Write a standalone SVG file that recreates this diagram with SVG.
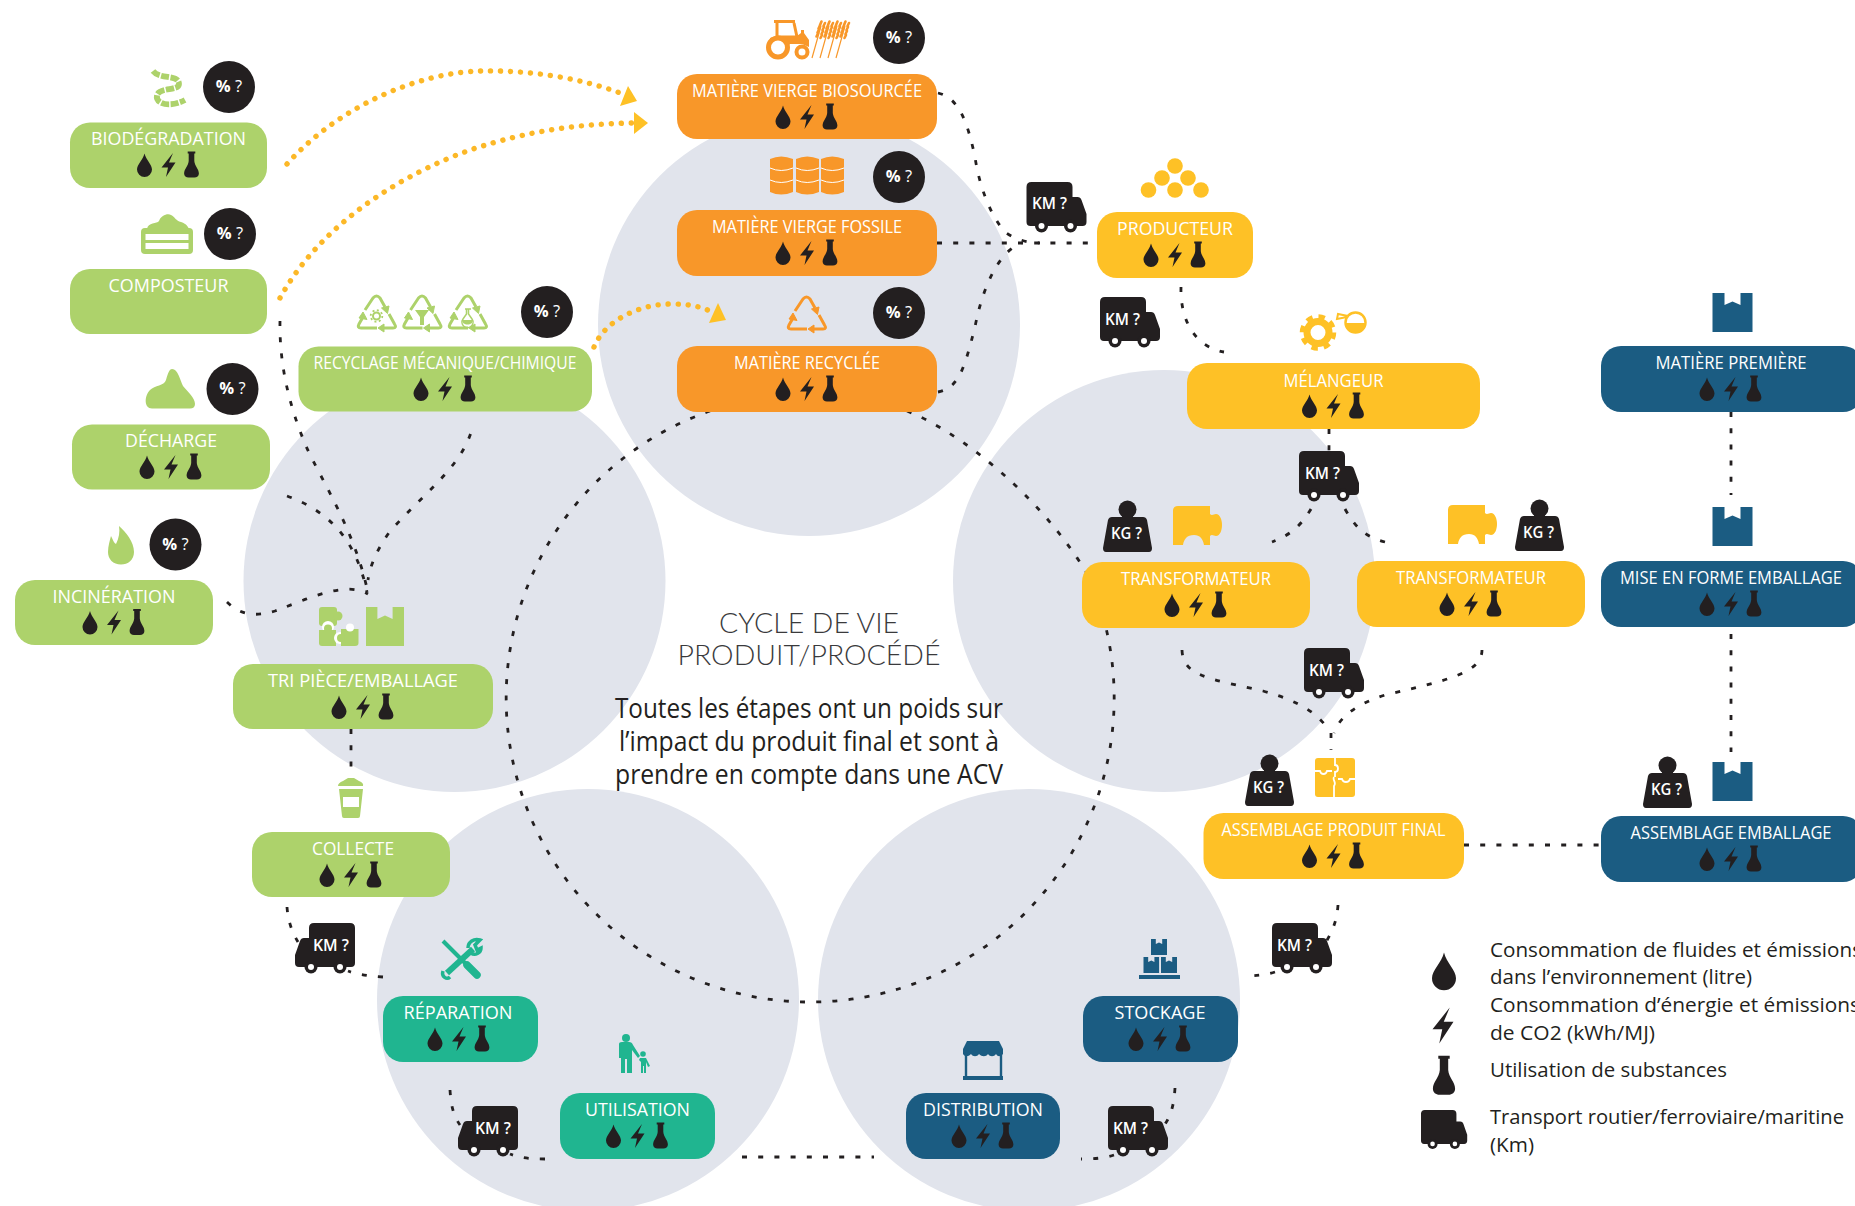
<svg xmlns="http://www.w3.org/2000/svg" width="1855" height="1206" viewBox="0 0 1855 1206">
<style>
text{font-family:"Open Sans","Noto Sans","Liberation Sans",sans-serif}
.bg{fill:#e1e4ec}
.g{fill:#add26b}.o{fill:#f89729}.y{fill:#fec126}.b{fill:#1b5c82}.t{fill:#20b590}.k{fill:#231f20}
.l{fill:#fff;font-size:18.5px;text-anchor:middle;font-weight:400}
.km{fill:#fff;font-size:16px;font-weight:600}
.pc{fill:#fff;font-size:16.5px;text-anchor:middle;font-weight:700}
.pc tspan{font-weight:400}
.d{fill:none;stroke:#231f20;stroke-width:2.8;stroke-dasharray:5 11.2}
.yd{fill:none;stroke:#fcb827;stroke-width:5.4;stroke-linecap:round;stroke-dasharray:.1 9.9}
.leg{fill:#231f20;font-size:20.5px}
.ct{fill:#231f20;font-size:27px;text-anchor:middle}
.hd{fill:#3a3a3c;font-family:Lato,"Open Sans",sans-serif;font-weight:300;font-size:27px;text-anchor:middle}
.rc{fill:none;stroke:currentColor;stroke-width:3;stroke-linejoin:round}
</style>
<defs>
<path id="drop" d="M0,-11.5C1.5,-5 7.5,-.5 7.5,4.5A7.5,7.5 0 0 1-7.5,4.5C-7.5,-.5-1.5,-5 0,-11.5Z"/>
<path id="bolt" d="M4.500,-12L-7,2.500H-.5L-2.500,12L7,-2.500H.5Z"/>
<path id="flask" d="M-3.800,-13.500H3.800V-11.500H2.800V-4C3.200,1 7.400,4 7.400,8.500C7.400,11 5.400,12.500 3,12.500H-3C-5.400,12.500-7.400,11-7.400,8.500C-7.400,4-3.200,1-2.800,-4V-11.500H-3.800Z"/>
<g id="res" class="k"><use href="#drop" x="-24"/><use href="#bolt"/><use href="#flask" x="23"/></g>
<g id="truckR"><path class="k" d="M5,0H41Q46,0 46,5V15H51Q54,15 55,18L60,32V40Q60,44 56,44H4Q0,44 0,40V5Q0,0 5,0Z"/><circle class="k" cx="15" cy="44" r="6.500"/><circle class="k" cx="44" cy="44" r="6.500"/><circle cx="15" cy="44" r="3" fill="#fff"/><circle cx="44" cy="44" r="3" fill="#fff"/></g>
<g id="truckL"><path class="k" d="M55,0H19Q14,0 14,5V15H9Q6,15 5,18L0,32V40Q0,44 4,44H56Q60,44 60,40V5Q60,0 55,0Z"/><circle class="k" cx="16" cy="44" r="6.500"/><circle class="k" cx="45" cy="44" r="6.500"/><circle cx="16" cy="44" r="3" fill="#fff"/><circle cx="45" cy="44" r="3" fill="#fff"/></g>
<g id="kg"><circle class="k" cx="24.500" cy="9.500" r="9"/><path class="k" d="M19,14H30V17H40Q43,17 44,20L49,48Q49,52 46,52H3Q0,52 0,48L5,20Q6,17 9,17H19Z"/></g>
<path id="box" d="M0,0H12V12L20,8.500L28,12V0H40V39H0Z"/>
<path id="piece" d="M0,5Q0,0 5,0H37V8C39,10 41,8 43,8C47,8 49,14 49,19C49,24 47,30 43,30C41,30 39,28 37,30V39H31C30,33 27,29 21,29C14,29 11,33 10,39H0Z"/>
<g id="rec" class="rc"><path d="M8,15L16,3Q19.500,-1 23,3L28,12"/><path d="M32,19L37.500,29Q40,33 36,33H27"/><path d="M20,33H4Q0,33 2,29L6,22"/><path d="M24.500,13L32,11L30.500,18.500Z" fill="currentColor" stroke-width="1"/><path d="M27,29V37L21,33Z" fill="currentColor" stroke-width="1"/><path d="M2,23L10,24.500L6,17Z" fill="currentColor" stroke-width="1"/></g>
<g id="wheat" fill="none" stroke="#f89729"><path d="M0,38L9,6" stroke-width="1.200"/><g stroke-width="2.600" stroke-linecap="round"><path d="M8,5L9.500,1.500"/><path d="M11.500,6L13,3"/><path d="M6.500,8.500L8,5.500"/><path d="M10.500,10L12,7"/><path d="M5.500,12.500L7,9.500"/><path d="M9.500,14L11,11"/><path d="M4.500,16.500L6,13.500"/><path d="M8.500,18L10,15"/></g></g>
</defs>

<g id="background-circles">
<circle class="bg" cx="809" cy="325" r="211"/>
<circle class="bg" cx="454.500" cy="581" r="211"/>
<circle class="bg" cx="1164" cy="581" r="211"/>
<circle class="bg" cx="588" cy="1000" r="211"/>
<circle class="bg" cx="1029" cy="1000" r="211"/>
</g>

<g id="connectors">
<path class="yd" d="M287,164C340,105 420,72 482,71C530,70 580,78 620,93"/>
<path class="yd" d="M280,298C320,225 400,175 470,150C530,130 580,124 632,123"/>
<path class="yd" d="M594,347C605,320 640,304 671,304C688,304 700,306 712,312"/>
<polygon fill="#fec126" points="628,86 637,101 620,106"/>
<polygon fill="#fec126" points="634,112 648,123 634,134"/>
<polygon fill="#fec126" points="718,303 726,320 709,323"/>
<path class="d" d="M938,93C960,98 968,125 975,157C979,185 990,215 1005,232C1015,240 1030,243 1040,243"/>
<path class="d" d="M937,243H1092"/>
<path class="d" d="M938,392C960,388 965,365 975,327C983,285 1000,250 1022,243"/>
<path class="d" d="M1181,287C1180,320 1195,347 1224,352"/>
<path class="d" d="M1329,429V452"/>
<path class="d" d="M1311,509C1300,527 1290,535 1272,542"/>
<path class="d" d="M1345,509C1355,527 1365,537 1385,542"/>
<path class="d" d="M1182,650C1183,675 1205,678 1263,691C1300,701 1320,715 1329,731"/>
<path class="d" d="M1482,650C1482,672 1450,680 1385,695C1360,703 1340,715 1334,733"/>
<path class="d" d="M1331,733V750"/>
<path class="d" d="M1731,412V495"/>
<path class="d" d="M1731,634V752"/>
<path class="d" d="M1464,845H1602"/>
<path class="d" d="M1338,905C1337,920 1333,930 1326,942"/>
<path class="d" d="M1275,972C1265,975 1255,976 1243,976"/>
<path class="d" d="M1175,1088C1174,1103 1172,1115 1163,1127"/>
<path class="d" d="M1114,1155C1105,1158 1095,1159 1081,1159"/>
<path class="d" d="M742,1157H874"/>
<path class="d" d="M545,1159C530,1159 520,1158 510,1154"/>
<path class="d" d="M450,1090C451,1105 453,1115 460,1125"/>
<path class="d" d="M383,977C370,976 358,975 348,971"/>
<path class="d" d="M287,907C288,920 291,930 298,942"/>
<path class="d" d="M351,729V772"/>
<path class="d" d="M280,321C279,375 295,420 306,446C320,478 355,530 368,593"/>
<path class="d" d="M287,496C325,510 355,535 367,592"/>
<path class="d" d="M470.500,434C458,470 420,497 389.500,532C378,548 370,565 368,580"/>
<path class="d" d="M227,602C240,615 255,617 275,611C305,600 345,580 368,594"/>
<path class="d" d="M710,411A304,304 0 1 0 1106,628"/>
<path class="d" d="M907,411C960,432 1040,495 1088,575"/>
</g>

<g id="center-text">
<text class="hd" x="809" y="633" textLength="180" lengthAdjust="spacingAndGlyphs">CYCLE DE VIE</text>
<text class="hd" x="809" y="665" textLength="263" lengthAdjust="spacingAndGlyphs">PRODUIT/PROCÉDÉ</text>
<text class="ct" x="809" y="718" textLength="388" lengthAdjust="spacingAndGlyphs">Toutes les étapes ont un poids sur</text>
<text class="ct" x="809" y="751" textLength="380" lengthAdjust="spacingAndGlyphs">l’impact du produit final et sont à</text>
<text class="ct" x="809" y="784" textLength="388" lengthAdjust="spacingAndGlyphs">prendre en compte dans une ACV</text>
</g>

<g id="biodegradation">
<path d="M153,71C160,80 179,74 179,84C179,91 160,87 157,95C155,104 170,108 185,100" fill="none" stroke="#add26b" stroke-width="5.800" stroke-dasharray="8 1.500"/>
<circle class="k" cx="229" cy="87" r="26"/><text class="pc" x="229" y="92">% <tspan>?</tspan></text>
<rect class="g" x="70" y="122.500" width="197" height="65.500" rx="20"/>
<text class="l" x="168.500" y="145" textLength="155" lengthAdjust="spacingAndGlyphs">BIODÉGRADATION</text>
<use href="#res" x="168.500" y="165"/>
</g>
<g id="composteur">
<path class="g" d="M147,229C148,222 157,224 159,221C161,215 168,213 171,215C175,217 176,221 181,222C187,224 188,227 189,229Z"/>
<rect class="g" x="141" y="228" width="52" height="26" rx="4"/>
<rect x="145.500" y="234" width="43" height="6" fill="#fff"/><rect x="145.500" y="243" width="43" height="6" fill="#fff"/>
<circle class="k" cx="230" cy="234" r="26"/><text class="pc" x="230" y="239">% <tspan>?</tspan></text>
<rect class="g" x="70" y="269" width="197" height="65" rx="20"/>
<text class="l" x="168.500" y="291.500" textLength="120" lengthAdjust="spacingAndGlyphs">COMPOSTEUR</text>
</g>
<g id="decharge">
<path class="g" d="M152,408.500C144,408.500 144,396 150,390C155,385 164,386 166,380C168,372 170,369 172,369C178,369 180,380 183,386C188,392 195,398 195,404C195,407 193,408.500 190,408.500Z"/>
<circle class="k" cx="232.500" cy="389" r="26"/><text class="pc" x="232.500" y="394">% <tspan>?</tspan></text>
<rect class="g" x="72" y="424.500" width="198" height="65" rx="20"/>
<text class="l" x="171" y="447" textLength="92" lengthAdjust="spacingAndGlyphs">DÉCHARGE</text>
<use href="#res" x="171" y="467"/>
</g>
<g id="incineration">
<path class="g" d="M119,526C126,532 134,542 134,552C134,560 128,564.500 121,564.500C113,564.500 108,559 108,552C108,546 110,540 111,536C113,540 114,543 116,544C119,538 120,532 119,526Z"/>
<circle class="k" cx="175.500" cy="544.500" r="26"/><text class="pc" x="175.500" y="549.500">% <tspan>?</tspan></text>
<rect class="g" x="15" y="580" width="198" height="65" rx="20"/>
<text class="l" x="114" y="602.500" textLength="123" lengthAdjust="spacingAndGlyphs">INCINÉRATION</text>
<use href="#res" x="114" y="622.500"/>
</g>
<g id="recyclage" color="#add26b">
<use href="#rec" x="357" y="295"/><use href="#rec" x="402.500" y="295"/><use href="#rec" x="448" y="295"/>
<circle cx="376.500" cy="316" r="3.500" fill="none" stroke="#add26b" stroke-width="2"/><circle cx="376.500" cy="316" r="5.800" fill="none" stroke="#add26b" stroke-width="1.800" stroke-dasharray="2 2.500"/>
<path class="g" d="M415,310H429L424,317V325H420V317Z"/>
<path d="M465,309H471M466.500,309V314L463,319A5.500,5.500 0 1 0 472,319L468.500,314V309" fill="none" stroke="#add26b" stroke-width="1.500"/><path class="g" d="M462.500,320H472.500C474,326 461,326 462.500,320Z"/>
<circle class="k" cx="547" cy="312" r="26"/><text class="pc" x="547" y="317">% <tspan>?</tspan></text>
<rect class="g" x="298.500" y="346.500" width="293.500" height="65" rx="20"/>
<text class="l" x="445" y="369" textLength="263" lengthAdjust="spacingAndGlyphs">RECYCLAGE MÉCANIQUE/CHIMIQUE</text>
<use href="#res" x="445" y="389"/>
</g>
<g id="tri">
<rect class="g" x="319" y="607" width="18" height="19" rx="3"/><circle class="g" cx="338" cy="616" r="4.500"/><circle cx="328" cy="627" r="6" fill="#fff"/>
<path class="g" d="M319,630H336V646H322Q319,646 319,643Z"/><circle class="g" cx="328" cy="628.500" r="4"/><circle cx="340" cy="638" r="6" fill="#fff"/>
<path class="g" d="M341,629H358.500V643Q358.500,646 355,646H341Z"/><circle class="g" cx="341" cy="638" r="4"/><circle cx="350" cy="627.500" r="4" fill="#fff"/>
<use class="g" href="#box" transform="translate(366,607) scale(.95,1)"/>
<rect class="g" x="233" y="664" width="260" height="65" rx="20"/>
<text class="l" x="363" y="687" textLength="190" lengthAdjust="spacingAndGlyphs">TRI PIÈCE/EMBALLAGE</text>
<use href="#res" x="363" y="707"/>
</g>
<g id="collecte">
<path class="g" d="M338,786Q338,783 343,781L348,778H354L359,781Q364,783 363,786Z"/>
<path class="g" d="M339,789H363L360,816Q360,818 358,818H344Q342,818 342,816Z"/>
<rect x="343" y="797" width="16" height="10" fill="#fff"/>
<rect class="g" x="252" y="832" width="198" height="65" rx="20"/>
<text class="l" x="353" y="855" textLength="82" lengthAdjust="spacingAndGlyphs">COLLECTE</text>
<use href="#res" x="351" y="875"/>
</g>
<g id="reparation">
<path d="M443,941L472,970" stroke="#20b590" stroke-width="4" fill="none"/><path d="M467,965L477,975" stroke="#20b590" stroke-width="7.500" stroke-linecap="round" fill="none"/>
<path d="M447,973L473,949" stroke="#20b590" stroke-width="6" fill="none"/><path d="M443,971C441,977 447,980 450,977M468,948C468,942 474,938 480,940L475,945L477,950L481,948C481,953 475,956 471,953" stroke="#20b590" stroke-width="3.500" fill="none"/>
<rect class="t" x="383" y="996" width="155" height="66" rx="20"/>
<text class="l" x="458" y="1019" textLength="109" lengthAdjust="spacingAndGlyphs">RÉPARATION</text>
<use href="#res" x="459" y="1039"/>
</g>
<g id="utilisation">
<circle class="t" cx="626" cy="1038" r="4"/><path class="t" d="M619,1044Q619,1042 622,1042H629Q632,1042 633,1045L640,1056L638,1058L632,1050V1073H627V1059H625V1073H621V1058H619Z"/>
<circle class="t" cx="643" cy="1054" r="2.800"/><path class="t" d="M640,1058H646L650,1066L648,1067L646,1062V1073H644V1066H643V1073H641V1062L639,1060Z"/>
<rect class="t" x="560" y="1093" width="155" height="66" rx="20"/>
<text class="l" x="637.500" y="1116" textLength="105" lengthAdjust="spacingAndGlyphs">UTILISATION</text>
<use href="#res" x="637.500" y="1136"/>
</g>
<g id="distribution">
<path class="b" d="M967,1041H999L1003,1049V1054C1000,1057 998,1057 996,1054C994,1057 990,1057 988,1054C986,1057 982,1057 979,1054C977,1057 973,1057 971,1054C968,1057 965,1057 963,1054V1049Z"/>
<path d="M966,1054V1077M1001,1054V1077" stroke="#1b5c82" stroke-width="2.400" fill="none"/><rect class="b" x="963" y="1076" width="40" height="4"/>
<rect class="b" x="906" y="1093" width="154" height="66" rx="20"/>
<text class="l" x="983" y="1116" textLength="120" lengthAdjust="spacingAndGlyphs">DISTRIBUTION</text>
<use href="#res" x="983" y="1136"/>
</g>
<g id="stockage">
<use class="b" href="#box" transform="translate(1151,939) scale(.4,.41)"/>
<use class="b" href="#box" transform="translate(1143.500,957) scale(.39,.41)"/>
<use class="b" href="#box" transform="translate(1161,957) scale(.4,.41)"/>
<rect class="b" x="1139" y="975" width="41" height="4"/>
<rect class="b" x="1083" y="996" width="155" height="66" rx="20"/>
<text class="l" x="1160" y="1019" textLength="91" lengthAdjust="spacingAndGlyphs">STOCKAGE</text>
<use href="#res" x="1160" y="1039"/>
</g>
<g id="matiere-biosourcee">
<rect class="o" x="774" y="20" width="21" height="3"/>
<path d="M777,23V37H797L794,23" fill="none" stroke="#f89729" stroke-width="3"/>
<path class="o" d="M770,38L776,36H797L801,33V30H804V33L809,40V47L802,44H790L788,46H770Z"/>
<circle cx="778" cy="47.500" r="9.500" fill="#fff" stroke="#f89729" stroke-width="5"/>
<circle cx="802" cy="52" r="5.500" fill="#fff" stroke="#f89729" stroke-width="4"/>
<use href="#wheat" x="812" y="20"/><use href="#wheat" x="820" y="20"/><use href="#wheat" x="828" y="20"/><use href="#wheat" x="836" y="20"/>
<ellipse class="k" cx="899" cy="38" rx="26" ry="26"/><text class="pc" x="899" y="43">% <tspan>?</tspan></text>
<rect class="o" x="677" y="74" width="260" height="65" rx="20"/>
<text class="l" x="807" y="97" textLength="230" lengthAdjust="spacingAndGlyphs">MATIÈRE VIERGE BIOSOURCÉE</text>
<use href="#res" x="807" y="117"/>
</g>
<g id="matiere-fossile">
<path class="o" d="M770,159Q781,154 793,159V192Q781,197 770,192Z"/><path class="o" d="M796,159Q807,154 819,159V192Q807,197 796,192Z"/><path class="o" d="M821,159Q832,154 844,159V192Q832,197 821,192Z"/>
<path d="M770,168Q781,173 793,168M796,168Q807,173 819,168M821,168Q832,173 844,168M770,180Q781,185 793,180M796,180Q807,185 819,180M821,180Q832,185 844,180" fill="none" stroke="#fff" stroke-width="1"/>
<ellipse class="k" cx="899" cy="177" rx="26" ry="26"/><text class="pc" x="899" y="182">% <tspan>?</tspan></text>
<rect class="o" x="677" y="210" width="260" height="66" rx="20"/>
<text class="l" x="807" y="233" textLength="190" lengthAdjust="spacingAndGlyphs">MATIÈRE VIERGE FOSSILE</text>
<use href="#res" x="807" y="253"/>
</g>
<g id="matiere-recyclee" color="#f89729">
<use href="#rec" x="787" y="296"/>
<ellipse class="k" cx="899" cy="313" rx="26" ry="26"/><text class="pc" x="899" y="318">% <tspan>?</tspan></text>
<rect class="o" x="677" y="346" width="260" height="66" rx="20"/>
<text class="l" x="807" y="369" textLength="146" lengthAdjust="spacingAndGlyphs">MATIÈRE RECYCLÉE</text>
<use href="#res" x="807" y="389"/>
</g>
<g id="producteur">
<circle class="y" cx="1175" cy="166" r="7.800"/><circle class="y" cx="1162" cy="178" r="7.800"/><circle class="y" cx="1188" cy="178" r="7.800"/><circle class="y" cx="1148.500" cy="190" r="7.800"/><circle class="y" cx="1175" cy="190" r="7.800"/><circle class="y" cx="1201" cy="190" r="7.800"/>
<rect class="y" x="1097" y="212" width="156" height="66" rx="20"/>
<text class="l" x="1175" y="235" textLength="116" lengthAdjust="spacingAndGlyphs">PRODUCTEUR</text>
<use href="#res" x="1175" y="255"/>
</g>
<g id="melangeur">
<circle cx="1318" cy="332.500" r="11" fill="none" stroke="#fec126" stroke-width="7"/>
<circle cx="1318" cy="332.500" r="16" fill="none" stroke="#fec126" stroke-width="4.500" stroke-dasharray="6.500 6.070"/>
<circle cx="1355.500" cy="322.500" r="10" fill="#fff" stroke="#fec126" stroke-width="2.500"/>
<path class="y" d="M1346,323H1365A9.500,9.500 0 0 1 1346,323Z"/>
<path d="M1347,317L1337,319L1338,314L1348,316" fill="#fff" stroke="#fec126" stroke-width="2"/>
<rect class="y" x="1187" y="363" width="293" height="66" rx="20"/>
<text class="l" x="1333.500" y="387" textLength="100" lengthAdjust="spacingAndGlyphs">MÉLANGEUR</text>
<use href="#res" x="1333.500" y="406"/>
</g>
<g id="transformateur-1">
<use href="#kg" x="1103" y="500"/><text class="km" x="1111" y="539" textLength="31" lengthAdjust="spacingAndGlyphs">KG ?</text>
<use class="y" href="#piece" x="1173" y="506"/>
<rect class="y" x="1082" y="562" width="228" height="66" rx="20"/>
<text class="l" x="1196" y="585" textLength="150" lengthAdjust="spacingAndGlyphs">TRANSFORMATEUR</text>
<use href="#res" x="1196" y="605"/>
</g>
<g id="transformateur-2">
<use href="#kg" x="1515" y="499"/><text class="km" x="1523" y="538" textLength="31" lengthAdjust="spacingAndGlyphs">KG ?</text>
<use class="y" href="#piece" x="1448" y="505"/>
<rect class="y" x="1357" y="561" width="228" height="66" rx="20"/>
<text class="l" x="1471" y="584" textLength="150" lengthAdjust="spacingAndGlyphs">TRANSFORMATEUR</text>
<use href="#res" x="1471" y="604"/>
</g>
<g id="assemblage-produit">
<use href="#kg" x="1245" y="754"/><text class="km" x="1253" y="793" textLength="31" lengthAdjust="spacingAndGlyphs">KG ?</text>
<rect class="y" x="1315" y="758" width="40" height="39" rx="3"/>
<path d="M1335,757V765C1339,765 1339,772 1335,772V777M1315,771H1320C1321,775 1326,775 1327,771H1332M1334,777C1332,780 1337,782 1334,786V798M1338,779H1342C1343,783 1349,783 1350,779H1355" fill="none" stroke="#fff" stroke-width="1.800"/>
<rect class="y" x="1203.500" y="813" width="260.500" height="66" rx="20"/>
<text class="l" x="1333.500" y="836" textLength="224" lengthAdjust="spacingAndGlyphs">ASSEMBLAGE PRODUIT FINAL</text>
<use href="#res" x="1333.500" y="856"/>
</g>
<g id="matiere-premiere">
<use class="b" href="#box" x="1712.500" y="293"/>
<rect class="b" x="1601" y="346" width="262" height="66" rx="20"/>
<text class="l" x="1731" y="369" textLength="151" lengthAdjust="spacingAndGlyphs">MATIÈRE PREMIÈRE</text>
<use href="#res" x="1731" y="389"/>
</g>
<g id="mise-en-forme">
<use class="b" href="#box" x="1712.500" y="507"/>
<rect class="b" x="1601" y="561" width="262" height="66" rx="20"/>
<text class="l" x="1731" y="584" textLength="222" lengthAdjust="spacingAndGlyphs">MISE EN FORME EMBALLAGE</text>
<use href="#res" x="1731" y="604"/>
</g>
<g id="assemblage-emballage">
<use href="#kg" x="1643" y="756"/><text class="km" x="1651" y="795" textLength="31" lengthAdjust="spacingAndGlyphs">KG ?</text>
<use class="b" href="#box" x="1712.500" y="762"/>
<rect class="b" x="1601" y="816" width="262" height="66" rx="20"/>
<text class="l" x="1731" y="839" textLength="201" lengthAdjust="spacingAndGlyphs">ASSEMBLAGE EMBALLAGE</text>
<use href="#res" x="1731" y="859"/>
</g>

<g id="truck-1"><use href="#truckR" x="1026.500" y="182"/><text class="km" x="1032" y="209" textLength="35" lengthAdjust="spacingAndGlyphs">KM ?</text></g>
<g id="truck-2"><use href="#truckR" x="1100" y="297"/><text class="km" x="1105" y="325" textLength="35" lengthAdjust="spacingAndGlyphs">KM ?</text></g>
<g id="truck-3"><use href="#truckR" x="1299" y="451"/><text class="km" x="1305" y="479" textLength="35" lengthAdjust="spacingAndGlyphs">KM ?</text></g>
<g id="truck-4"><use href="#truckR" x="1304" y="648"/><text class="km" x="1309" y="676" textLength="35" lengthAdjust="spacingAndGlyphs">KM ?</text></g>
<g id="truck-5"><use href="#truckR" x="1272" y="923"/><text class="km" x="1277" y="951" textLength="35" lengthAdjust="spacingAndGlyphs">KM ?</text></g>
<g id="truck-6"><use href="#truckR" x="1108" y="1106"/><text class="km" x="1113" y="1134" textLength="35" lengthAdjust="spacingAndGlyphs">KM ?</text></g>
<g id="truck-7"><use href="#truckL" x="458" y="1106"/><text class="km" x="475" y="1134" textLength="36" lengthAdjust="spacingAndGlyphs">KM ?</text></g>
<g id="truck-8"><use href="#truckL" x="295" y="923"/><text class="km" x="313" y="951" textLength="36" lengthAdjust="spacingAndGlyphs">KM ?</text></g>

<g id="legend">
<use class="k" href="#drop" transform="translate(1444,971) scale(1.600)"/>
<use class="k" href="#bolt" transform="translate(1443,1025.500) scale(1.500)"/>
<use class="k" href="#flask" transform="translate(1444,1076) scale(1.500)"/>
<use href="#truckR" transform="translate(1421,1110) scale(.77)"/>
<text class="leg" x="1490" y="957" textLength="372" lengthAdjust="spacingAndGlyphs">Consommation de fluides et émissions</text>
<text class="leg" x="1490" y="984" textLength="262" lengthAdjust="spacingAndGlyphs">dans l’environnement (litre)</text>
<text class="leg" x="1490" y="1012" textLength="370" lengthAdjust="spacingAndGlyphs">Consommation d’énergie et émissions</text>
<text class="leg" x="1490" y="1040" textLength="165" lengthAdjust="spacingAndGlyphs">de CO2 (kWh/MJ)</text>
<text class="leg" x="1490" y="1077" textLength="237" lengthAdjust="spacingAndGlyphs">Utilisation de substances</text>
<text class="leg" x="1490" y="1124" textLength="354" lengthAdjust="spacingAndGlyphs">Transport routier/ferroviaire/maritine</text>
<text class="leg" x="1490" y="1152" textLength="44" lengthAdjust="spacingAndGlyphs">(Km)</text>
</g>
</svg>
